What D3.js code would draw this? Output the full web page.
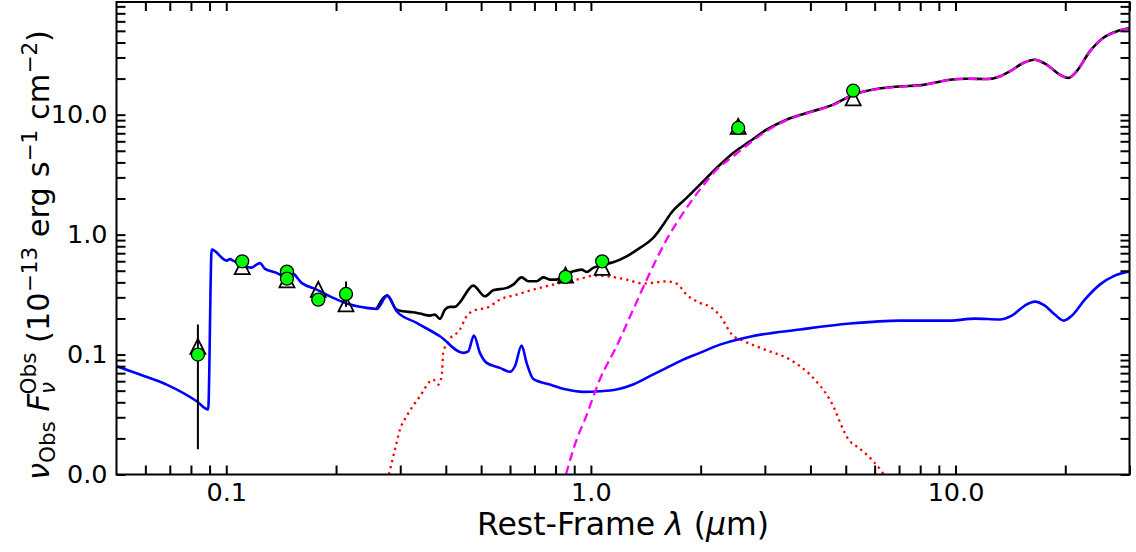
<!DOCTYPE html>
<html><head><meta charset="utf-8">
<script src="https://cdn.jsdelivr.net/npm/d3@7"></script>
<style>body{margin:0;background:#fff} svg{display:block} text{font-family:"DejaVu Sans",sans-serif;white-space:pre}</style>
</head><body><svg id="c" width="1136" height="552"></svg>
<script>
// ---------------- data ----------------
const blueLam = [0.050,0.058,0.0686,0.083,0.0892,0.0912,0.1003,0.1023,0.1045,0.1113,0.1173,0.121,0.1237,0.1277,0.1374,0.1458,0.1511,0.1609,0.177,0.1965,0.2184,0.2427,0.2585,0.2763,0.2933,0.3327,0.3855,0.4465,0.4609,0.4777,0.4962,0.5176,0.5629,0.5997,0.6189,0.6456,0.6663,0.6947,0.772,0.858,0.952,1.058,1.176,1.306,1.451,1.613,1.791,1.99,2.258,2.729,3.742,5.131,7.036,9.647,11.29,13.23,14.27,15.49,16.5,17.58,18.72,19.82,20.84,22.62,24.87,27.34,30.0];
const blueFlux = [0.080,0.0681,0.0562,0.0408,0.0348,0.750,0.607,0.625,0.607,0.544,0.531,0.562,0.579,0.518,0.480,0.442,0.480,0.396,0.348,0.297,0.261,0.245,0.240,0.310,0.2296,0.1837,0.1421,0.1033,0.1065,0.144,0.1033,0.0853,0.0775,0.0718,0.0799,0.1189,0.0853,0.0627,0.0562,0.0511,0.0489,0.0494,0.0511,0.0562,0.066,0.0775,0.0908,0.1033,0.121,0.141,0.1616,0.1813,0.192,0.192,0.1995,0.196,0.211,0.256,0.2765,0.256,0.2154,0.192,0.211,0.287,0.383,0.455,0.492];

const blackLam = [0.2585,0.2763,0.2933,0.3051,0.325,0.3398,0.3619,0.3735,0.3855,0.3979,0.4106,0.4238,0.4372,0.4757,0.5122,0.5397,0.5873,0.6121,0.6456,0.6731,0.7099,0.7401,0.772,0.8052,0.8487,0.8944,0.943,0.9732,1.0146,1.0807,1.151,1.253,1.363,1.482,1.613,1.647,1.83,1.99,2.212,2.456,2.729,3.032,3.441,3.904,4.618,5.24,6.073,7.036,7.983,8.682,9.647,10.72,12.16,13.23,14.09,15.33,16.5,17.77,19.32,20.36,21.47,23.35,25.39,27.64,30.0];
const blackFlux = [0.240,0.310,0.237,0.2296,0.2252,0.2196,0.2113,0.2154,0.1984,0.237,0.2497,0.2497,0.2728,0.3758,0.306,0.3434,0.3596,0.383,0.4405,0.408,0.408,0.4405,0.4217,0.4217,0.464,0.4944,0.5109,0.4888,0.528,0.562,0.5876,0.6594,0.7747,0.9387,1.334,1.468,2.022,2.61,3.596,4.796,5.992,7.499,9.085,10.33,12.12,14.68,16.38,17.21,17.55,18.37,19.57,19.95,19.84,20.85,22.95,26.97,28.73,26.11,21.54,20.22,22.95,33.69,43.58,49.46,52.8];

const dustLam = [0.854,0.9138,0.9627,1.058,1.176,1.306,1.451,1.613,1.791,1.99,2.212,2.456,2.729,3.032,3.441,3.904,4.618,5.24,6.073,7.036,7.983,8.682,9.647,10.72,12.16,13.23,14.09,15.33,16.5,17.77,19.32,20.36,21.47,23.35,25.39,27.64,30.0];
const dustFlux = [0.01,0.01957,0.0287,0.0619,0.1173,0.237,0.4796,0.9085,1.516,2.371,3.481,4.493,5.81,7.3,9.0,10.25,12.05,14.6,16.3,17.15,17.5,18.3,19.5,19.9,19.8,20.8,22.9,26.9,28.7,26.1,21.5,20.2,22.9,33.6,43.5,49.4,52.7];

const oldLam = [0.2793,0.2902,0.2995,0.3123,0.3398,0.3694,0.3814,0.3897,0.3936,0.4062,0.4372,0.4562,0.4859,0.5176,0.5629,0.6256,0.6947,0.788,0.858,0.9328,1.0146,1.104,1.253,1.391,1.513,1.613,1.718,1.83,1.99,2.12,2.258,2.436,2.644,3.0,3.513,3.986,4.521,5.131,5.351,5.702,5.943,6.266,6.36];
const oldFlux = [0.01,0.01616,0.0237,0.0306,0.0449,0.0619,0.0562,0.0659,0.1033,0.129,0.1616,0.2085,0.237,0.2449,0.2872,0.3162,0.348,0.383,0.408,0.4273,0.455,0.4494,0.4217,0.3905,0.4003,0.408,0.3905,0.3162,0.2697,0.251,0.2113,0.1468,0.1283,0.11,0.0908,0.0681,0.0422,0.01895,0.0172,0.01468,0.0129,0.01065,0.01];

const photLam = [0.0836,0.1106,0.1467,0.1467,0.1788,0.213,0.852,1.074,2.535,5.24];
const photFlux = [0.100,0.599,0.492,0.430,0.287,0.320,0.444,0.599,7.75,15.85];
const modelLam = [0.0836,0.1106,0.1467,0.1788,0.213,0.852,1.074,2.535,5.24];
const modelFlux = [0.117,0.54,0.42,0.35,0.265,0.46,0.534,8.0,13.8];
const errLam = [0.0836,0.213];
const errLow = [0.0162,0.25];
const errHigh = [0.178,0.406];

const xTicks = [0.06,0.07,0.08,0.09,0.1,0.2,0.3,0.4,0.5,0.6,0.7,0.8,0.9,1,2,3,4,5,6,7,8,9,10,20,30];
const xMajor = [0.1,1,10];
const xLabels = ["0.1","1.0","10.0"];
const yTicks = [0.01,0.02,0.03,0.04,0.05,0.06,0.07,0.08,0.09,0.1,0.2,0.3,0.4,0.5,0.6,0.7,0.8,0.9,1,2,3,4,5,6,7,8,9,10,20,30,40,50,60,70,80];
const yMajor = [0.01,0.1,1,10];
const yLabels = ["0.0","0.1","1.0","10.0"];

// ---------------- chart ----------------
const L = 116.5, R = 1129.5, T = 2, B = 474.5;
const svg = d3.select("#c");
const x = d3.scaleLog().domain([0.05, 30]).range([L, R]);
const y = d3.scaleLog().domain([0.01, 87]).range([B, T]);

svg.append("clipPath").attr("id","clip").append("rect")
  .attr("x",L).attr("y",T).attr("width",R-L).attr("height",B-T);

const zip = (a,b) => a.map((v,i)=>[v,b[i]]);
const line = d3.line().x(d=>x(d[0])).y(d=>y(d[1])).curve(d3.curveMonotoneX);
const plot = svg.append("g").attr("clip-path","url(#clip)");

plot.append("path").attr("d", line(zip(blackLam,blackFlux)))
  .attr("fill","none").attr("stroke","#000").attr("stroke-width",2.6).attr("stroke-linejoin","round");
plot.append("path").attr("d", line(zip(oldLam,oldFlux)))
  .attr("fill","none").attr("stroke","#ff0000").attr("stroke-width",2.3).attr("stroke-dasharray","2.3,4");
plot.append("path").attr("d", line(zip(blueLam,blueFlux)))
  .attr("fill","none").attr("stroke","#0000ff").attr("stroke-width",2.6).attr("stroke-linejoin","round");
plot.append("path").attr("d", line(zip(dustLam,dustFlux)))
  .attr("fill","none").attr("stroke","#ff00ff").attr("stroke-width",2.3).attr("stroke-dasharray","9,5");

// error bars
plot.selectAll("line.err").data(errLam.map((v,i)=>[v,errLow[i],errHigh[i]])).enter()
  .append("line").attr("x1",d=>x(d[0])).attr("x2",d=>x(d[0]))
  .attr("y1",d=>y(d[1])).attr("y2",d=>y(d[2])).attr("stroke","#000").attr("stroke-width",2);

// triangles
const tri = s => `M0,${-s/2}L${s/2},${s/2}L${-s/2},${s/2}Z`;
plot.selectAll("path.tri").data(zip(modelLam,modelFlux)).enter()
  .append("path").attr("d",tri(15))
  .attr("transform",d=>`translate(${x(d[0])},${y(d[1])})`)
  .attr("fill","none").attr("stroke","#000").attr("stroke-width",1.8);

// circles
plot.selectAll("circle.pt").data(zip(photLam,photFlux)).enter()
  .append("circle").attr("cx",d=>x(d[0])).attr("cy",d=>y(d[1])).attr("r",6.5)
  .attr("fill","#00ff00").attr("stroke","#000").attr("stroke-width",1.3);

// axes
const fmtX = d => { const i = xMajor.findIndex(m=>Math.abs(m-d)<1e-9); return i>=0 ? xLabels[i] : ""; };
const fmtY = d => { const i = yMajor.findIndex(m=>Math.abs(m-d)<1e-9); return i>=0 ? yLabels[i] : ""; };
function style(g){
  g.select(".domain").remove();
  g.selectAll(".tick line").attr("stroke","#000").attr("stroke-width",2);
  g.selectAll(".tick text").attr("font-size",25.5).attr("fill","#000").attr("font-family","DejaVu Sans");
}
svg.append("g").attr("transform",`translate(0,${B})`)
  .call(d3.axisBottom(x).tickValues(xTicks).tickSizeInner(-9).tickSizeOuter(0).tickPadding(8).tickFormat(fmtX)).call(style);
svg.append("g").attr("transform",`translate(0,${T})`)
  .call(d3.axisTop(x).tickValues(xTicks).tickSizeInner(-9).tickSizeOuter(0).tickFormat(()=>"")).call(style);
svg.append("g").attr("transform",`translate(${L},0)`)
  .call(d3.axisLeft(y).tickValues(yTicks).tickSizeInner(-9).tickSizeOuter(0).tickPadding(9).tickFormat(fmtY)).call(style);
svg.append("g").attr("transform",`translate(${R},0)`)
  .call(d3.axisRight(y).tickValues(yTicks).tickSizeInner(-9).tickSizeOuter(0).tickFormat(()=>"")).call(style);

svg.append("rect").attr("x",L).attr("y",T).attr("width",R-L).attr("height",B-T)
  .attr("fill","none").attr("stroke","#000").attr("stroke-width",2);

// axis labels
const xl = svg.append("text").attr("x",(L+R)/2).attr("y",535).attr("text-anchor","middle").attr("font-size",31.5);
xl.append("tspan").text("Rest-Frame ");
xl.append("tspan").attr("font-style","italic").text("λ");
xl.append("tspan").text(" (");
xl.append("tspan").attr("font-style","italic").text("μ");
xl.append("tspan").text("m)");

const yl = svg.append("text").attr("transform","translate(49,255) rotate(-90)").attr("text-anchor","middle").attr("font-size",30.5);
const sub = 21.5;
yl.append("tspan").attr("font-style","italic").text("ν");
yl.append("tspan").attr("font-size",sub).attr("dy",6).text("Obs");
yl.append("tspan").attr("dy",-6).text(" ");
yl.append("tspan").attr("font-style","italic").text("F");
yl.append("tspan").attr("font-size",sub).attr("font-style","italic").attr("dy",6).text("ν");
yl.append("tspan").attr("font-size",sub).attr("dx",-12.5).attr("dy",-19).text("Obs");
yl.append("tspan").attr("dy",13).text(" (10");
yl.append("tspan").attr("font-size",sub).attr("dy",-12).text("−13");
yl.append("tspan").attr("dy",12).text(" erg s");
yl.append("tspan").attr("font-size",sub).attr("dy",-12).text("−1");
yl.append("tspan").attr("dy",12).text(" cm");
yl.append("tspan").attr("font-size",sub).attr("dy",-12).text("−2");
yl.append("tspan").attr("dy",12).text(")");
</script>
</body></html>
